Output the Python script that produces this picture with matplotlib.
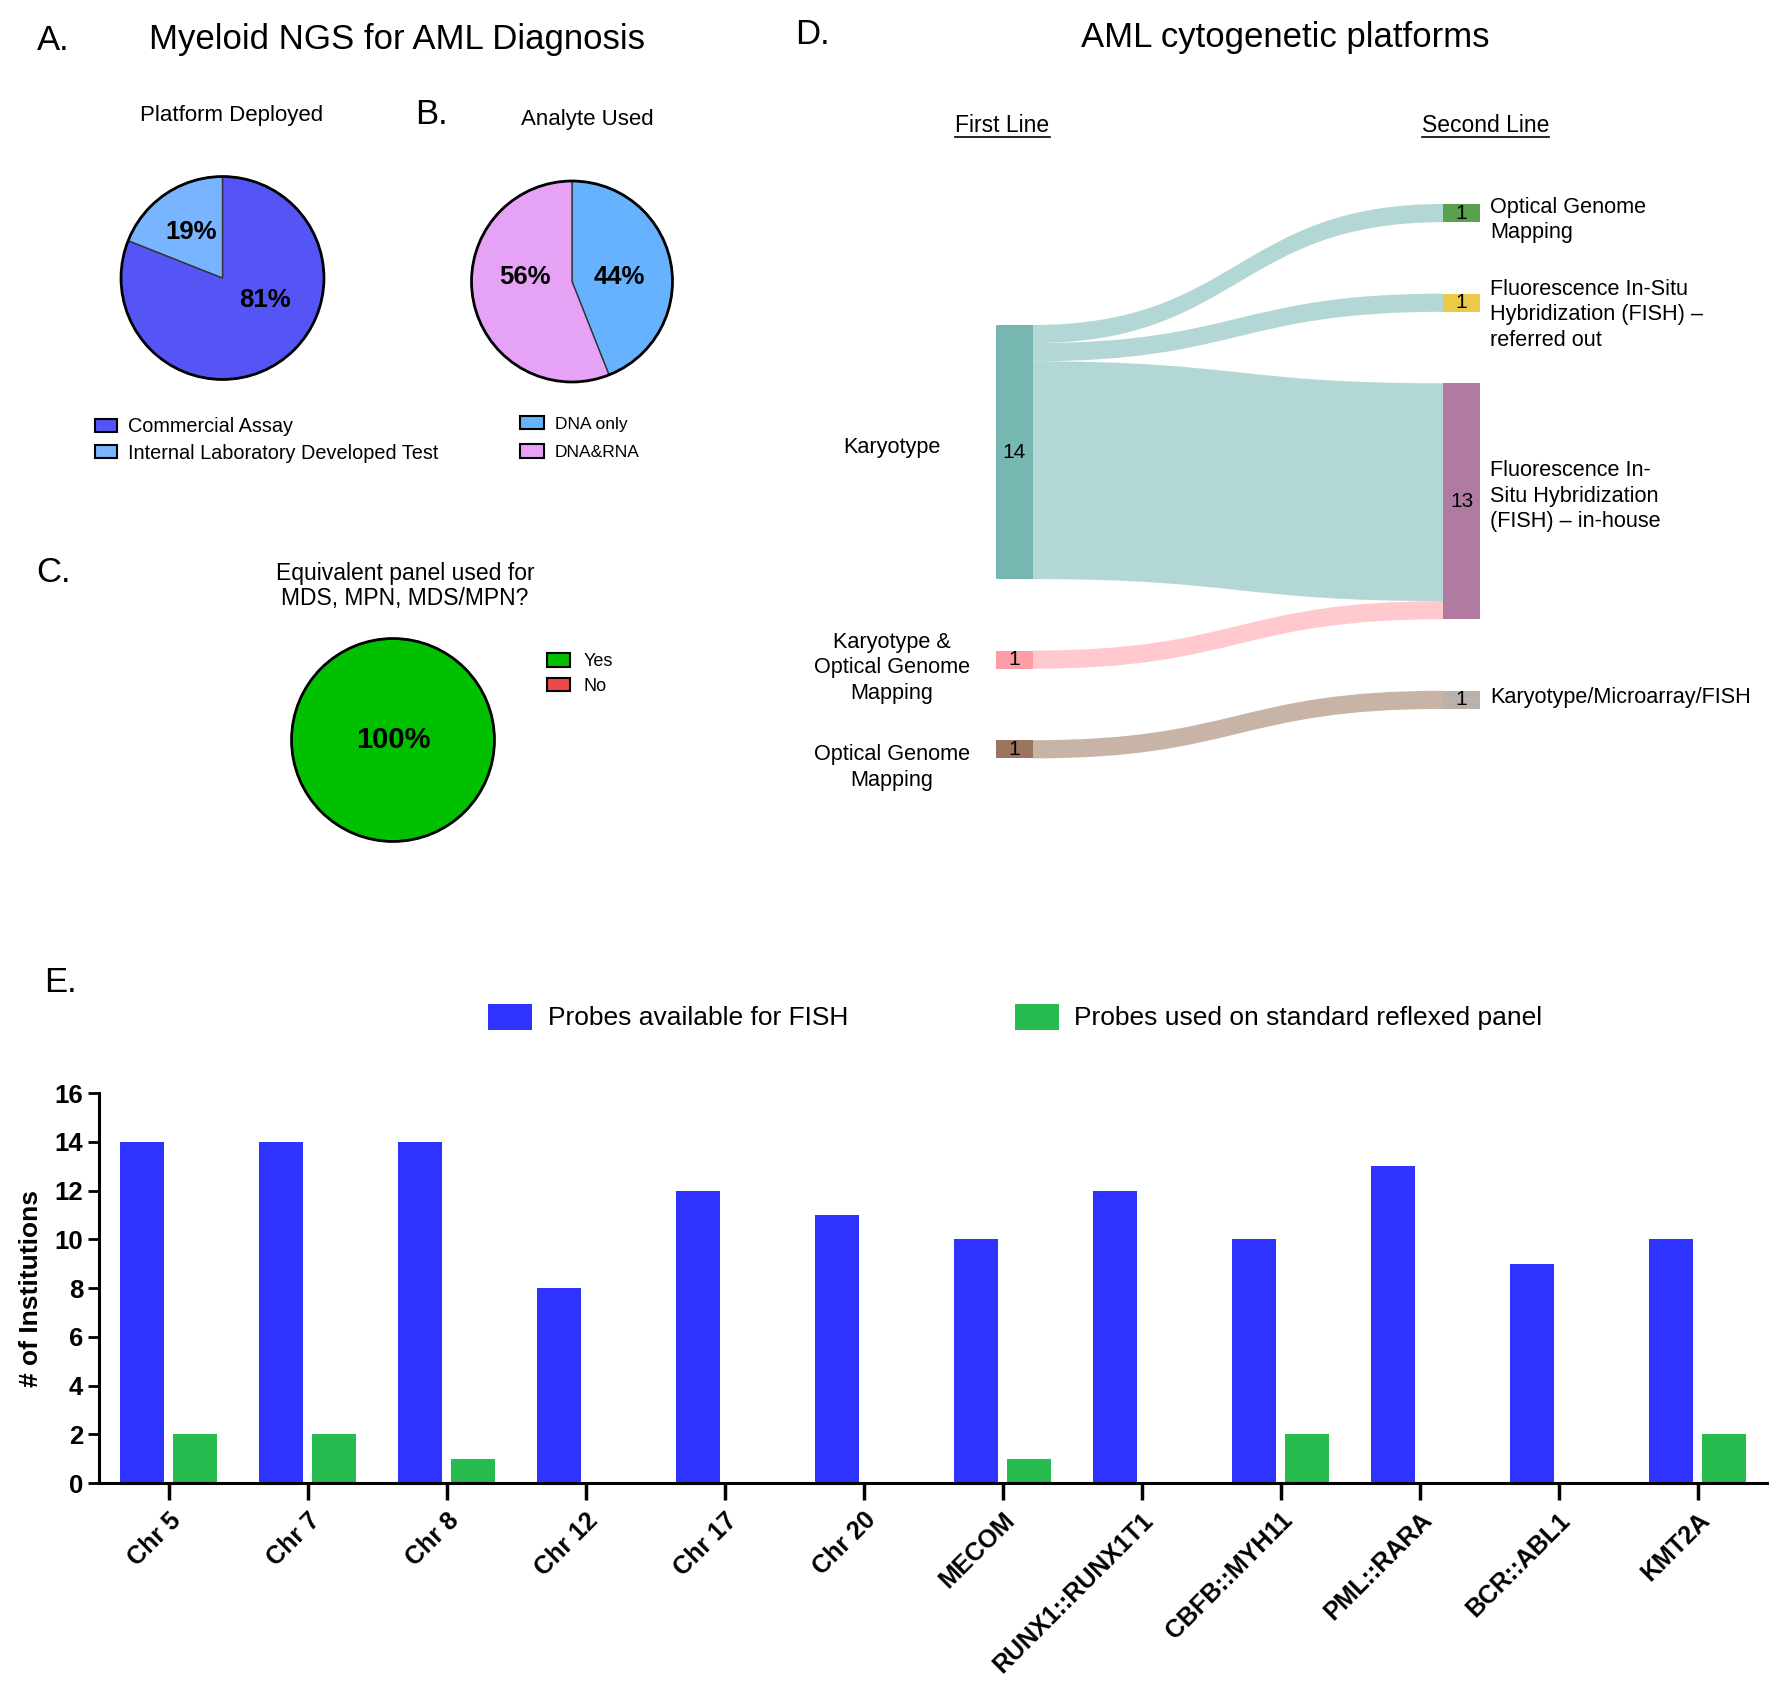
import numpy as np
import matplotlib
matplotlib.use('Agg')
import matplotlib.pyplot as plt
from matplotlib.patches import Rectangle, PathPatch, Patch, Circle
from matplotlib.path import Path

plt.rcParams['font.family'] = ['Liberation Sans', 'DejaVu Sans']

# ---- data ----
platform_labels = ['Commercial Assay', 'Internal Laboratory Developed Test']
platform_pct = [81, 19]
platform_colors = ['#5555F5', '#78B4FF']

analyte_labels = ['DNA only', 'DNA&RNA']
analyte_pct = [44, 56]
analyte_colors = ['#66B2FF', '#E6A3F5']

panel_labels = ['Yes', 'No']
panel_pct = [100, 0]
panel_colors = ['#00C000', '#F04848']

first_line = ['Karyotype', 'Karyotype &\nOptical Genome\nMapping', 'Optical Genome\nMapping']
second_line = ['Optical Genome\nMapping',
               'Fluorescence In-Situ\nHybridization (FISH) \u2013\nreferred out',
               'Fluorescence In-\nSitu Hybridization\n(FISH) \u2013 in-house',
               'Karyotype/Microarray/FISH']
flow_src = [0, 0, 0, 1, 2]
flow_dst = [0, 1, 2, 2, 3]
flow_val = [1, 1, 12, 1, 1]
first_colors = ['#76B7B2', '#FF9DA7', '#9C755F']
second_colors = ['#59A14F', '#EDC948', '#B07AA1', '#BAB0AC']

probes = ['Chr 5', 'Chr 7', 'Chr 8', 'Chr 12', 'Chr 17', 'Chr 20', 'MECOM',
          'RUNX1::RUNX1T1', 'CBFB::MYH11', 'PML::RARA', 'BCR::ABL1', 'KMT2A']
available = [14, 14, 14, 8, 12, 11, 10, 12, 10, 13, 9, 10]
reflexed = [2, 2, 1, 0, 0, 0, 1, 0, 2, 0, 0, 2]

W, H = 1780, 1685
fig = plt.figure(figsize=(W / 100, H / 100), dpi=100)

# overlay axes in pixel coordinates (top-left origin) for text and sankey
ov = fig.add_axes([0, 0, 1, 1])
ov.set_xlim(0, W)
ov.set_ylim(H, 0)
ov.axis('off')


def px_axes(x0, y0, w, h):
    return fig.add_axes([x0 / W, 1 - (y0 + h) / H, w / W, h / H])


def draw_pie(cx, cy, r, vals, colors, fs):
    ax = px_axes(cx - r, cy - r, 2 * r, 2 * r)
    keep = [i for i, v in enumerate(vals) if v > 0]
    wedges, texts, autos = ax.pie([vals[i] for i in keep], colors=[colors[i] for i in keep],
                                  startangle=90, counterclock=False,
                                  autopct=lambda p: f'{p:.0f}%', pctdistance=0.55,
                                  wedgeprops=dict(edgecolor='#333333', linewidth=1.0),
                                  textprops=dict(fontsize=fs, fontweight='bold'))
    ax.add_patch(Circle((0, 0), 1, fill=False, edgecolor='black', linewidth=2))
    ax.set_xlim(-1.03, 1.03)
    ax.set_ylim(-1.03, 1.03)
    return ax, autos


def pie_legend(x, y, labels, colors, fs, spacing, hl, hh, pad):
    handles = [Patch(facecolor=c, edgecolor='black', linewidth=1.5) for c in colors]
    fig.legend(handles, labels, loc='center left', bbox_to_anchor=(x, y),
               bbox_transform=ov.transData, frameon=False, fontsize=fs,
               labelspacing=spacing, handlelength=hl, handleheight=hh,
               handletextpad=pad, borderpad=0, borderaxespad=0)


# ---- panel letters and titles ----
for letter, x, y in [('A.', 53, 40), ('B.', 431, 115), ('C.', 53, 573), ('D.', 812, 34), ('E.', 60, 983)]:
    ov.text(x, y, letter, fontsize=25, ha='center', va='center')
ov.text(397, 40, 'Myeloid NGS for AML Diagnosis', fontsize=25, ha='center', va='center')
ov.text(232, 115, 'Platform Deployed', fontsize=16, ha='center', va='center')
ov.text(587, 120, 'Analyte Used', fontsize=16, ha='center', va='center')
ov.text(405, 586, 'Equivalent panel used for\nMDS, MPN, MDS/MPN?', fontsize=16.5,
        ha='center', va='center', linespacing=1.15)
ov.text(1285, 37, 'AML cytogenetic platforms', fontsize=25, ha='center', va='center')

# ---- pies ----
axA, autoA = draw_pie(222.5, 278, 104.5, platform_pct, platform_colors, 18.5)
autoA[0].set_position((0.42, -0.22))
pie_legend(95, 440, platform_labels, platform_colors, 14.3, 0.36, 1.1, 0.65, 0.55)

axB, autoB = draw_pie(572, 281.5, 103.5, analyte_pct, analyte_colors, 18.5)
autoB[0].set_position((0.47, 0.04))
autoB[1].set_position((-0.47, 0.04))
pie_legend(520, 438, analyte_labels, analyte_colors, 12.5, 0.72, 1.38, 0.8, 0.63)

axC, autoC = draw_pie(393, 740, 104.5, panel_pct, panel_colors, 21)
autoC[0].set_position((0, 0))
pie_legend(547, 674, panel_labels, panel_colors, 13, 0.42, 1.3, 0.75, 0.72)

# ---- sankey (panel D) ----
unit = 18.15
gap = 71.5
col_x = [996, 1443]
node_w = 37
col_top = [325, 204]
left_label_dy = [-5, 8, 18]
right_label_dy = [7, 12, -5, -2]

src_tot = [sum(v for s, v in zip(flow_src, flow_val) if s == i) for i in range(len(first_line))]
dst_tot = [sum(v for d, v in zip(flow_dst, flow_val) if d == i) for i in range(len(second_line))]


def col_layout(totals, top):
    ys, y = [], top
    for t in totals:
        ys.append(y)
        y += t * unit + gap
    return ys


src_y = col_layout(src_tot, col_top[0])
dst_y = col_layout(dst_tot, col_top[1])
src_off = list(src_y)
dst_off = list(dst_y)

x0 = col_x[0] + node_w
x1 = col_x[1]
xm = (x0 + x1) / 2
for s, d, v in zip(flow_src, flow_dst, flow_val):
    y0a = src_off[s]
    y0b = y0a + v * unit
    y1a = dst_off[d]
    y1b = y1a + v * unit
    src_off[s] = y0b
    dst_off[d] = y1b
    verts = [(x0, y0a), (xm, y0a), (xm, y1a), (x1, y1a), (x1, y1b),
             (xm, y1b), (xm, y0b), (x0, y0b), (x0, y0a)]
    codes = [Path.MOVETO, Path.CURVE4, Path.CURVE4, Path.CURVE4, Path.LINETO,
             Path.CURVE4, Path.CURVE4, Path.CURVE4, Path.CLOSEPOLY]
    ov.add_patch(PathPatch(Path(verts, codes), facecolor=first_colors[s], alpha=0.55, lw=0))

for i, name in enumerate(first_line):
    h = src_tot[i] * unit
    ov.add_patch(Rectangle((col_x[0], src_y[i]), node_w, h, facecolor=first_colors[i], lw=0))
    ov.text(col_x[0] + node_w / 2, src_y[i] + h / 2, str(src_tot[i]), fontsize=15,
            ha='center', va='center')
    ov.text(col_x[0] - 104, src_y[i] + h / 2 + left_label_dy[i], name, fontsize=15.6,
            ha='center', va='center', multialignment='center', linespacing=1.28)

for i, name in enumerate(second_line):
    h = dst_tot[i] * unit
    ov.add_patch(Rectangle((col_x[1], dst_y[i]), node_w, h, facecolor=second_colors[i], lw=0))
    ov.text(col_x[1] + node_w / 2, dst_y[i] + h / 2, str(dst_tot[i]), fontsize=15,
            ha='center', va='center')
    ov.text(col_x[1] + node_w + 10, dst_y[i] + h / 2 + right_label_dy[i], name, fontsize=15.6,
            ha='left', va='center', linespacing=1.28)

heads = []
for txt, x in [('First Line', col_x[0] + node_w / 2 - 12), ('Second Line', col_x[1] + node_w / 2 + 24)]:
    heads.append(ov.text(x, 125, txt, fontsize=16.5, ha='center', va='center'))

# ---- bar chart (panel E) ----
ax = px_axes(99, 1093, 1668, 390)
x = np.arange(len(probes))
b1 = ax.bar(x - 0.19, available, 0.32, color='#2E33FF', label='Probes available for FISH')
b2 = ax.bar(x + 0.19, reflexed, 0.32, color='#25BB4E', label='Probes used on standard reflexed panel')
ax.set_xlim(-0.5, 11.5)
ax.set_ylim(0, 16)
ax.set_yticks(range(0, 17, 2))
ax.set_xticks(x)
ax.set_xticklabels(probes, rotation=45, ha='right', rotation_mode='anchor', fontweight='bold')
for sp in ['top', 'right']:
    ax.spines[sp].set_visible(False)
for sp in ['left', 'bottom']:
    ax.spines[sp].set_linewidth(2.2)
ax.tick_params(axis='y', length=8, width=2, labelsize=18.5)
ax.tick_params(axis='x', length=12, width=2.5, labelsize=18, pad=6)
plt.setp(ax.get_yticklabels(), fontweight='bold')
ax.set_ylabel('# of Institutions', fontsize=19, fontweight='bold', labelpad=8)

fig.legend(handles=[b1, b2], loc='center left', bbox_to_anchor=(488, 1017),
           bbox_transform=ov.transData, ncol=2, frameon=False, fontsize=19,
           handlelength=1.67, handleheight=1.14, handletextpad=0.6,
           columnspacing=6.3, borderpad=0, borderaxespad=0)

# underline the sankey column headings
fig.canvas.draw()
inv = ov.transData.inverted()
for t in heads:
    bb = t.get_window_extent()
    (xa, _), (xb, _) = inv.transform([[bb.x0, bb.y0], [bb.x1, bb.y0]])
    ov.plot([xa, xb], [137, 137], color='black', lw=1.2)

fig.savefig('out.png', dpi=100)
